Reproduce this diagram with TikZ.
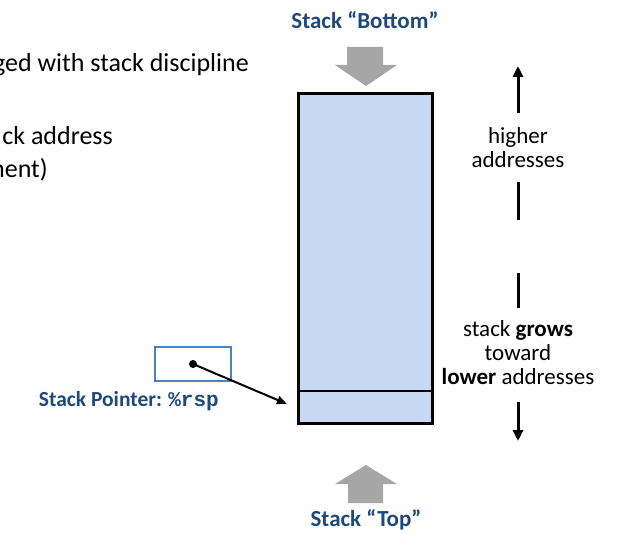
\documentclass[tikz,border=0pt]{standalone}
\usepackage{fontspec}
\setmainfont{Carlito}
\setmonofont{Liberation Mono}
\usetikzlibrary{arrows.meta}
\definecolor{titleblue}{RGB}{31,73,125}
\definecolor{boxblue}{RGB}{79,129,189}
\definecolor{stackfill}{RGB}{198,217,241}
\definecolor{blockgray}{RGB}{166,166,166}
\begin{document}
\begin{tikzpicture}[x=1pt,y=-1pt,
  bodytext/.style={font=\fontsize{26}{30}\selectfont, inner sep=0pt},
  sidetext/.style={font=\fontsize{23}{24}\selectfont, align=center, inner sep=0pt},
  titletext/.style={font=\fontsize{23}{25}\selectfont\bfseries, text=titleblue, inner sep=0pt},
  stackbox/.style={draw=black, line width=2.2pt, fill=stackfill, inner sep=0pt},
  regbox/.style={draw=boxblue, line width=1.8pt, inner sep=0pt, minimum width=76pt, minimum height=34pt},
  dirline/.style={line width=3pt},
  dirarrow/.style={line width=3pt, -{Triangle[length=11pt,width=10pt]}},
  ptrarrow/.style={line width=2pt, -{Triangle[length=10pt,width=8pt]}}]
\useasboundingbox (0,0) rectangle (625,535);
\clip (0,0) rectangle (625,535);
% left text (as cut by the picture edge)
\node[bodytext, anchor=base east] (t1) at (249,72) {ged with stack discipline};
\node[bodytext, anchor=base east] (t2) at (113,145) {ck address};
\node[bodytext, anchor=base east] (t3) at (48,178) {ment)};
% stack
\node[stackbox, minimum width=133pt, minimum height=329pt] (stack) at (365.5,258.5) {};
\node[draw=black, line width=1.6pt, inner sep=0pt, minimum width=133pt, minimum height=32pt] (topcell) at (365.5,407) {};
\draw[line width=2.2pt] (stack.north west) rectangle (stack.south east);
% titles
\node[titletext] (bottom) at (365,20) {Stack “Bottom”};
\node[titletext] (top) at (366,520) {Stack “Top”};
% gray block arrows
\fill[blockgray] (347,47) -- (383,47) -- (383,65) -- (397,65) -- (366,86) -- (335,65) -- (347,65) -- cycle;
\fill[blockgray] (366,465) -- (397,484) -- (383,484) -- (383,503) -- (348,503) -- (348,484) -- (335,484) -- cycle;
% stack pointer
\node[regbox] (reg) at (193,364) {};
\node[font=\fontsize{21.5}{24}\selectfont\bfseries, text=titleblue, inner sep=0pt, anchor=base east] (splabel) at (219,406) {Stack Pointer: {\ttfamily\fontsize{21}{22}\selectfont\%rsp}};
\fill (reg.center) circle (4pt);
\coordinate (sptip) at (287,404);
\draw[ptrarrow] (reg.center) -- (sptip);
% right side
\node[sidetext] (higher) at (518,148) {higher\\addresses};
\node[sidetext] (grows) at (518,353) {stack \textbf{grows}\\toward\\\textbf{lower} addresses};
\coordinate (a1) at (518,113);
\coordinate (a2) at (518,66);
\coordinate (b1) at (518,182);
\coordinate (b2) at (518,220);
\coordinate (c1) at (518,273);
\coordinate (c2) at (518,308);
\coordinate (d1) at (518,402);
\coordinate (d2) at (518,441);
\draw[dirarrow] (a1) -- (a2);
\draw[dirline] (b1) -- (b2);
\draw[dirline] (c1) -- (c2);
\draw[dirarrow] (d1) -- (d2);
\end{tikzpicture}
\end{document}
